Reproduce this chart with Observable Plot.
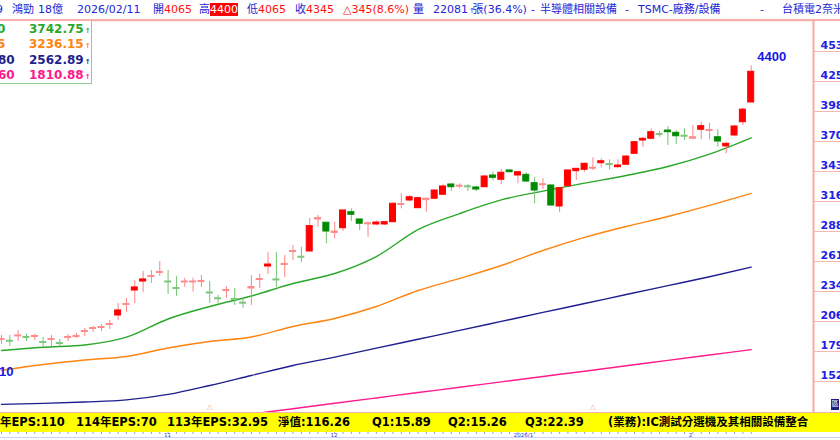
<!DOCTYPE html>
<html><head><meta charset="utf-8">
<script src="https://cdn.jsdelivr.net/npm/d3@7"></script>
<script src="https://cdn.jsdelivr.net/npm/@observablehq/plot@0.6"></script>
<style>
html,body{margin:0;padding:0;background:#fff;}
#wrap{position:relative;width:840px;height:440px;overflow:hidden;font-family:"DejaVu Sans","Noto Sans CJK TC",sans-serif;}
#chart{position:absolute;left:0;top:0;}
#head{position:absolute;left:0;top:0;width:840px;height:19px;border-bottom:2px solid #f6b0a8;background:#fff;}
.h{position:absolute;top:3px;font-size:11px;line-height:14px;color:#2424d6;white-space:nowrap;}
.r{color:#ff1010;}
.hl{background:#ff0000;color:#fff;}
.ar{font-size:7px;letter-spacing:-2.5px;margin-left:1px;}
#legend{position:absolute;left:0;top:21px;width:91px;height:62px;border-right:1px solid #8ccc8c;border-bottom:1px solid #8ccc8c;background:#fff;}
.lg{position:absolute;font-size:12px;font-weight:bold;line-height:15px;white-space:nowrap;}
#foot{position:absolute;left:0;top:412px;width:840px;height:19px;background:#ffff00;border-top:1px solid #f6b0a8;}
.f{position:absolute;top:2px;font-size:11.5px;font-weight:bold;line-height:15px;color:#000;white-space:nowrap;}
#icon{position:absolute;left:831px;top:399px;width:8px;height:11px;background:#1d1d80;color:#fff;font-size:7px;line-height:11px;text-align:center;overflow:hidden;}
#strip{position:absolute;left:0;top:437px;width:840px;height:1px;background:#c9d2f4;}
</style></head>
<body><div id="wrap">
<div id="chart"></div>
<div id="head">
<span class="h" style="left:-4px">9</span>
<span class="h" style="left:12px">鴻勁</span>
<span class="h" style="left:38px">18億</span>
<span class="h" style="left:77px">2026/02/11</span>
<span class="h" style="left:153px">開<span class="r">4065</span></span>
<span class="h" style="left:199px">高<span class="hl">4400</span></span>
<span class="h" style="left:247px">低<span class="r">4065</span></span>
<span class="h" style="left:295px">收<span class="r">4345</span></span>
<span class="h r" style="left:343px">△345(8.6%)</span>
<span class="h" style="left:413px">量</span>
<span class="h" style="left:433px">22081<span class="ar">↑</span>張(36.4%)</span>
<span class="h" style="left:531px">-</span>
<span class="h" style="left:540px">半導體相關設備</span>
<span class="h" style="left:625px">-</span>
<span class="h" style="left:638px">TSMC-廠務/設備</span>
<span class="h" style="left:760px">-</span>
<span class="h" style="left:782px">台積電2奈米供應鏈</span>
</div>
<div id="legend"></div>
<div id="foot">
<span class="f" style="left:-24px">115年EPS:110</span>
<span class="f" style="left:76px">114年EPS:70</span>
<span class="f" style="left:167px">113年EPS:32.95</span>
<span class="f" style="left:278px">淨值:116.26</span>
<span class="f" style="left:372px">Q1:15.89</span>
<span class="f" style="left:448px">Q2:15.26</span>
<span class="f" style="left:525px">Q3:22.39</span>
<span class="f" style="left:608px">(業務):IC測試分選機及其相關設備整合</span>
</div>
<div id="icon">區</div>
<div id="strip"></div>
</div>
<script>
// ---- data ----
const opens  = [1899,1892,1931,1926,1926,1880,1899,1871,1917,1926,1972,1999,2008,2036,2122,2218,2350,2432,2473,2510,2432,2373,2423,2423,2428,2332,2279,2346,2273,2239,2368,2446,2569,2451,2583,2701,2658,2706,2998,2968,2875,2918,3064,2998,2954,2952,2952,2973,3130,3171,3101,3174,3187,3223,3317,3297,3300,3290,3292,3399,3360,3445,3399,3405,3329,3310,3308,3116,3301,3438,3451,3461,3511,3504,3475,3497,3597,3718,3734,3777,3809,3788,3762,3734,3816,3805,3748,3664,3764,3885,4065];
const highs  = [1940,1940,1985,1949,1949,1922,1940,1903,1949,1958,2004,2022,2040,2077,2232,2277,2441,2524,2533,2615,2533,2478,2462,2462,2487,2432,2305,2387,2368,2277,2487,2501,2697,2697,2669,2761,2745,3007,3034,2968,2973,3080,3095,2998,2973,2984,2980,3150,3232,3217,3201,3192,3271,3314,3323,3323,3317,3296,3399,3429,3454,3451,3429,3424,3384,3369,3308,3283,3451,3460,3506,3560,3551,3542,3542,3581,3709,3748,3825,3803,3846,3809,3825,3855,3885,3876,3816,3703,3855,4013,4400];
const lows   = [1858,1840,1885,1885,1894,1830,1840,1840,1885,1912,1931,1967,1976,1995,2077,2150,2232,2332,2414,2478,2314,2296,2380,2335,2378,2232,2232,2277,2213,2189,2213,2368,2496,2378,2469,2624,2606,2700,2928,2776,2822,2888,2980,2897,2836,2943,2943,2968,3095,3156,3095,3064,3180,3217,3253,3278,3253,3253,3292,3353,3314,3424,3323,3338,3141,3271,3119,3059,3296,3353,3429,3445,3466,3451,3466,3490,3590,3657,3727,3748,3673,3682,3718,3727,3725,3725,3657,3597,3757,3855,4065];
const closes = [1908,1883,1940,1917,1935,1871,1908,1862,1926,1935,1981,2008,2017,2045,2168,2227,2378,2451,2482,2519,2423,2364,2432,2432,2437,2323,2270,2355,2264,2230,2382,2455,2587,2442,2592,2710,2649,2937,3011,2888,2888,3080,3041,2959,2963,2970,2973,3141,3139,3201,3192,3187,3262,3299,3292,3306,3291,3271,3390,3378,3424,3429,3429,3344,3262,3319,3125,3283,3445,3460,3506,3470,3529,3495,3490,3572,3703,3734,3794,3768,3794,3757,3753,3748,3849,3814,3709,3688,3846,4000,4345];
// moving averages sampled every 5 bars
const maIdx  = [0,5,10,15,20,25,30,35,40,45,50,55,60,65,70,75,80,85,90];
const ma20   = [1803,1832,1853,1924,2090,2204,2300,2414,2505,2660,2906,3052,3177,3256,3329,3399,3481,3594,3743];
const ma60   = [1621,1675,1716,1748,1826,1885,1926,2022,2095,2204,2350,2460,2578,2715,2834,2934,3025,3126,3236];
const ma120  = [1311,1320,1333,1352,1402,1484,1575,1666,1742,1824,1905,1986,2068,2150,2231,2313,2394,2475,2563];
const ma240  = [null,null,null,null,null,null,1223,1272,1321,1370,1419,1467,1517,1566,1614,1663,1713,1762,1811];
const maNames  = ["0","5","80","60"];
const maLast   = ["3742.75","3236.15","2562.89","1810.88"];
const maColors = ["#2aa82a","#ff8410","#1e1e8e","#ff1a8c"];
const yTicks = [4530,4256,3983,3709,3435,3162,2888,2614,2341,2067,1793,1520];
const monthTicks  = [20,40,62,83];
const monthLabels = ["11","12","2026/1","2"];
const markers = [25,71];
const lowLabel = {i:0, v:1710};

// ---- build ----
const N = opens.length;
const candles = d3.range(N).map(i => ({i, o:opens[i], h:highs[i], l:lows[i], c:closes[i]}));
const up = d => d.c >= d.o;
const thin = d => Math.abs(d.c - d.o) < 15;
const bodyColor = d => up(d) ? (thin(d) ? "#ff8c8c" : "#ff0000") : (thin(d) ? "#7ec67e" : "#008a00");
const wickColor = d => up(d) ? "#ff8484" : "#74c274";
const yDom = [1237.2, 4812.8];
const xDom = [-0.12, 97.48];
const maSeries = [ma20, ma60, ma120, ma240];

const lg = document.getElementById("legend");
maNames.forEach((n,k) => {
  const a = document.createElement("span");
  a.className = "lg"; a.style.left = (n.length>1? -2 : -3) + "px"; a.style.top = (1 + 15.3*k) + "px";
  a.style.color = maColors[k]; a.textContent = n; lg.appendChild(a);
  const b = document.createElement("span");
  b.className = "lg"; b.style.left = "29px"; b.style.top = (1 + 15.3*k) + "px";
  b.style.color = maColors[k]; b.textContent = maLast[k];
  const ar = document.createElement("span"); ar.className = "ar"; ar.textContent = "↑"; b.appendChild(ar);
  lg.appendChild(b);
});

const last = candles[N-1];
const chart = Plot.plot({
  width: 840, height: 440,
  marginTop: 20, marginBottom: 28, marginLeft: 0, marginRight: 27,
  style: {fontFamily: "DejaVu Sans, Noto Sans CJK TC, sans-serif", background: "#fff", overflow: "hidden"},
  x: {domain: xDom, axis: null},
  y: {domain: yDom, axis: null},
  marks: [
    ...maSeries.map((s,k) => Plot.line(maIdx.map((i,j) => ({i, v: s[j]})).filter(d => d.v != null),
      {x: "i", y: "v", stroke: maColors[k], strokeWidth: 1.4, curve: "monotone-x", clip: true})),
    Plot.ruleX(candles, {x: "i", y1: "l", y2: "h", stroke: wickColor, strokeWidth: 1, clip: true}),
    Plot.rect(candles, {x1: d => d.i - 0.36, x2: d => d.i + 0.36,
      y1: d => Math.min(d.o, d.c), y2: d => Math.max(d.o, d.c),
      fill: bodyColor, stroke: bodyColor, strokeWidth: 1, clip: true}),
    Plot.text([last], {x: "i", y: "h", text: d => String(d.h), dx: 6, dy: -9, textAnchor: "start",
      fill: "#1616e6", fontWeight: "bold", fontSize: 13, fontFamily: "Liberation Sans, Arial, sans-serif"}),
    Plot.text([lowLabel], {x: "i", y: "v", text: d => String(d.v), dx: 12, dy: 11, textAnchor: "end",
      fill: "#1616e6", fontWeight: "bold", fontSize: 13, fontFamily: "Liberation Sans, Arial, sans-serif"}),
    Plot.text(markers, {x: d => d, frameAnchor: "bottom", dy: -4, text: () => "△", fontSize: 7, fill: "#f2a274"}),
    // frame lines
    Plot.ruleX([xDom[1]], {stroke: "#f4aca4", strokeWidth: 2}),
    Plot.ruleY([yDom[1]], {stroke: "#f4aca4", strokeWidth: 1.5}),
    // right price axis: tick lines and labels
    Plot.axisY(yTicks, {anchor: "right", tickSize: 27, stroke: "#f6b6ae", fill: "none", label: null}),
    Plot.axisY(yTicks, {anchor: "right", tickSize: 0, tickPadding: 7, dy: -6, stroke: "none",
      tickFormat: d => String(d), fill: "#2020e6", fontSize: 11, fontWeight: "bold", label: null}),
    // date axis
    Plot.ruleX(d3.range(N), {x: d => d, insetTop: 412, insetBottom: -22, stroke: "#9a9ade", strokeWidth: 1}),
    Plot.axisX(monthTicks.map(d => d - 0.5), {anchor: "bottom", tickSize: 0, tickPadding: 21,
      tickFormat: d => monthLabels[monthTicks.indexOf(d + 0.5)], textAnchor: "start",
      fontSize: 5.5, fill: "#3434e0", label: null})
  ]
});
document.getElementById("chart").appendChild(chart);
</script>
</body></html>
